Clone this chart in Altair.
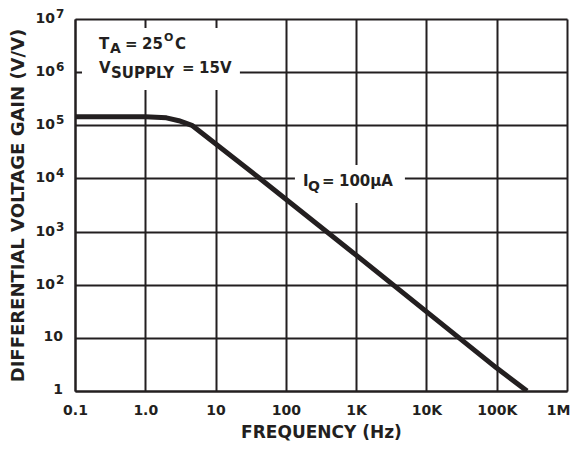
import altair as alt
import pandas as pd

# ---- data ----
freq = [0.1, 1.0, 2.0, 3.0, 4.6, 42.7, 1000, 100000, 270000]
gain = [1.45e5, 1.44e5, 1.38e5, 1.22e5, 1.0e5, 1.0e4, 360, 2.7, 1.0]

x_ticks = [0.1, 1, 10, 100, 1e3, 1e4, 1e5, 1e6]
x_tick_labels = ["0.1", "1.0", "10", "100", "1K", "10K", "100K", "1M"]
y_ticks = [1, 10, 100, 1e3, 1e4, 1e5, 1e6, 1e7]
y_tick_base = ["1", "10", "10", "10", "10", "10", "10", "10"]
y_tick_exp = ["", "", "2", "3", "4", "5", "6", "7"]

INK = "#231f20"
FONT = "DejaVu Sans"

xs = alt.Scale(type="log", domain=[0.1, 1e6], nice=False)
ys = alt.Scale(type="log", domain=[1, 1e7], nice=False)

expr = "'" + x_tick_labels[-1] + "'"
for v, lab in reversed(list(zip(x_ticks[:-1], x_tick_labels[:-1]))):
    expr = f"datum.value < {v * 3} ? '{lab}' : ({expr})"

x_axis = alt.Axis(
    values=x_ticks, labelExpr=expr, grid=True, gridColor=INK, gridWidth=2,
    gridOpacity=1, domainColor=INK, domainWidth=2, ticks=False,
    labelFont=FONT, labelFontWeight="bold", labelFontSize=14, labelColor=INK,
    labelPadding=12, labelFlush=False, labelOverlap=False,
    labelOffset={"condition": {"test": "datum.value > 500000", "value": -9}, "value": 0},
    title="FREQUENCY (Hz)", titleFont=FONT, titleFontSize=17,
    titleFontWeight="bold", titleColor=INK, titlePadding=7,
)
y_axis = alt.Axis(
    values=y_ticks, labels=False, grid=True, gridColor=INK, gridWidth=2,
    gridOpacity=1, domainColor=INK, domainWidth=2, ticks=False,
    title="DIFFERENTIAL VOLTAGE GAIN (V/V)", titleFont=FONT, titleFontSize=18,
    titleFontWeight="bold", titleColor=INK, titleX=-57, titleY=186,
    titleAngle=270, titleAlign="center", titleBaseline="middle",
)


def X(f="freq"):
    return alt.X(f, type="quantitative", scale=xs, axis=x_axis)


def Y(f="gain"):
    return alt.Y(f, type="quantitative", scale=ys, axis=y_axis)


# white boxes behind annotations (break the grid)
boxes = pd.DataFrame({
    "freq": [0.1258, 134.6], "freq2": [22.2, 4943],
    "gain": [6.77e6, 1.78e4], "gain2": [4.6e5, 3430],
})
box_layer = alt.Chart(boxes).mark_rect(fill="white").encode(
    x=X(), x2="freq2", y=Y(), y2="gain2"
)

line_df = pd.DataFrame({"freq": freq, "gain": gain})
line_layer = alt.Chart(line_df).mark_line(
    color=INK, strokeWidth=5, clip=True, strokeJoin="round"
).encode(x=X(), y=Y())

# y tick labels with superscripts
ylab = pd.DataFrame({"gain": y_ticks, "base": y_tick_base, "exp": y_tick_exp})
plain = alt.Chart(ylab).transform_filter("datum.exp == ''").mark_text(
    font=FONT, fontWeight="bold", fontSize=14, color=INK, align="right",
    baseline="middle", dy=-1
).encode(x=alt.value(-12), y=Y(), text="base:N")
pbase = alt.Chart(ylab).transform_filter("datum.exp != ''").mark_text(
    font=FONT, fontWeight="bold", fontSize=14, color=INK, align="right",
    baseline="middle"
).encode(x=alt.value(-20), y=Y(), text="base:N")
pexp = alt.Chart(ylab).transform_filter("datum.exp != ''").mark_text(
    font=FONT, fontWeight="bold", fontSize=12, color=INK, align="left",
    baseline="middle", dy=-5
).encode(x=alt.value(-19), y=Y(), text="exp:N")


def seg(fx, gy, text, size, dx, dy=0):
    d = pd.DataFrame({"freq": [fx], "gain": [gy], "t": [text]})
    return alt.Chart(d).mark_text(
        font=FONT, fontWeight="bold", fontSize=size, color=INK,
        align="left", baseline="alphabetic", dx=dx, dy=dy
    ).encode(x=X(), y=Y(), text="t:N")


a1x, a1y = 0.22, 2.7e6
a2x, a2y = 0.22, 9.6e5
a3x, a3y = 175, 7.2e3
ann = [
    seg(a1x, a1y, "T", 15, 0),
    seg(a1x, a1y, "A", 14, 11, 4),
    seg(a1x, a1y, "=", 15, 26),
    seg(a1x, a1y, "25", 15, 43),
    seg(a1x, a1y, "O", 11, 65, -8),
    seg(a1x, a1y, "C", 15, 76),
    seg(a2x, a2y, "V", 15, 0),
    seg(a2x, a2y, "SUPPLY", 15, 12, 5),
    seg(a2x, a2y, "=", 15, 83),
    seg(a2x, a2y, "15V", 15, 100),
    seg(a3x, a3y, "I", 15, 0),
    seg(a3x, a3y, "Q", 14, 5, 5),
    seg(a3x, a3y, "=", 15, 19),
    seg(a3x, a3y, "100\u00b5A", 15, 36),
]

chart = alt.layer(box_layer, line_layer, plain, pbase, pexp, *ann).properties(
    width=492, height=372,
    autosize=alt.AutoSizeParams(type="none"),
    padding={"left": 67, "top": 11, "right": 4, "bottom": 51},
).configure_view(stroke=None).configure(background="white")

chart.save("out.html", embed_options={"renderer": "svg", "actions": False})
